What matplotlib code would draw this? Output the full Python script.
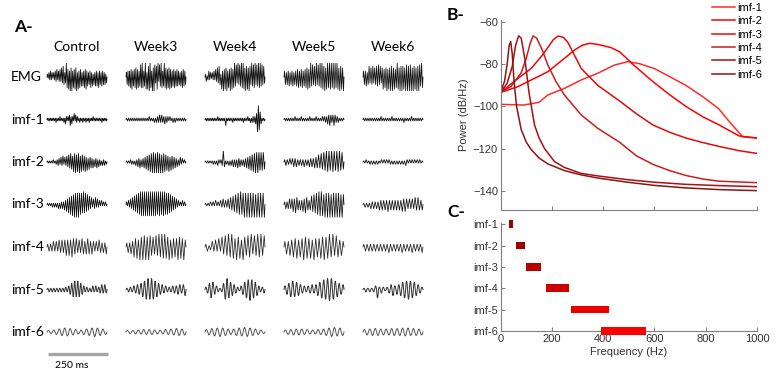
import numpy as np
import matplotlib
matplotlib.use('Agg')
import matplotlib.pyplot as plt

plt.rcParams['font.family'] = ['Liberation Sans', 'DejaVu Sans']

# ---------------- panel A: waveforms (peak amplitudes per half cycle, 0-9) ----------------
conditions = ['Control', 'Week3', 'Week4', 'Week5', 'Week6']
rows = ['EMG', 'imf-1', 'imf-2', 'imf-3', 'imf-4', 'imf-5', 'imf-6']
row_max_px = [14, 14, 11, 13, 13, 11, 4.5]
row_smooth = [False, False, False, False, False, True, True]

emg = ['2132423132435243536475349758496947586938475636475846354736253646374536453524',
       '3546475846576857468797469838799749698478938697469768576857465746564536475645',
       '2312423132425364752849586947596857968495869798697869759687958697968574',
       '4535463546354657465746576857968576958697987968979897989798697869',
       '4546357465746576857468576958697968579869797869897989697869798697']
imf1 = ['1111111111121111211112132121342321413221121112111211121111211111111112111111',
        '1111111111111111111111211112122232322322212112121111111111',
        '11111111111111211111111411111112111111111112111121121222234897531111',
        '111111111121111121111111211111211111212223343234322211111',
        '1111111111111111211111111121111111111211111121111111111']
imf2 = ['11111121122332435243546576587968795867584736453524352423132312',
        '1111221213243524354657687989798979697867584756453423423121',
        '111111121213212394121313242425342324354657687989878786',
        '2322323434232324232434354565768798979897989786',
        '11211212121211212121221212121212132121212121211']
imf3 = ['111112121213132324354657687989898786968574635243524231312121',
        '213243546576879898989898989898979897989787867564534231213121',
        '111121213121324232435465768797898989898979898989',
        '2323434546543435465434657687989879898979898989797',
        '121213232324343435343434343545434343545434']
imf4 = ['232343435454565657656454654565454343543435',
        '34354768597989798675869798987958676978695',
        '2312435363758697986978597687958697968',
        '45465768576978685967687978979687564',
        '232323232323232423232324232324232324']
imf5 = ['1212121212122234567676543222123232234343',
        '1222334456789898765443322233344345',
        '2357643212589765432134678987653223',
        '3456766543323343456788999876544',
        '1212123723212345344567787765432']
imf6 = ['3345678876544567898765',
        '3334445555444455667766',
        '5678898765678899876543',
        '4556666554445567899887',
        '5667776666777788877766']
traces = [emg, imf1, imf2, imf3, imf4, imf5, imf6]

# ---------------- panel B: power spectra ----------------
imf_labels = ['imf-1', 'imf-2', 'imf-3', 'imf-4', 'imf-5', 'imf-6']
f1 = [0, 90, 150, 184, 249, 314, 379, 444, 496, 542, 600, 659, 723, 788, 850, 892, 944, 1000]
p1 = [-99, -99.3, -98, -94.5, -91.4, -87.4, -84.2, -80.3, -78.7, -79.7, -82, -85.8, -90, -95.3, -101, -107.2, -114.4, -115]
f2 = [0, 67, 119, 184, 249, 290, 320, 347, 379, 430, 464, 516, 594, 660, 723, 790, 853, 930, 1000]
p2 = [-93.3, -90.6, -87.4, -83.5, -77.1, -73, -70.8, -70, -70.5, -72, -74, -80, -88.2, -94.5, -100, -105, -108.8, -114, -115]
f3 = [0, 51, 119, 160, 184, 205, 224, 245, 262, 285, 314, 379, 464, 530, 594, 660, 723, 790, 853, 930, 1000]
p3 = [-93.3, -88.2, -81.9, -76, -72, -68.3, -66.5, -67.2, -69.5, -75, -81.9, -90, -97.4, -103.5, -108.8, -112.3, -115, -117.2, -119, -121, -122.3]
f4 = [0, 40, 80, 100, 115, 126, 140, 160, 184, 215, 249, 314, 379, 464, 530, 594, 660, 723, 790, 853, 1000]
p4 = [-93.3, -90.5, -84, -77, -70, -66.5, -67.5, -72.5, -80.3, -88, -94.6, -104, -110.4, -117, -123.5, -127.5, -130.5, -132.8, -134.5, -135.5, -136.2]
f5 = [0, 25, 45, 58, 70, 80, 95, 110, 132, 150, 171, 210, 249, 314, 379, 496, 600, 723, 853, 1000]
p5 = [-93.3, -89, -81, -71, -66.4, -67.5, -78, -93, -108.8, -115, -120, -126.2, -129, -131.8, -133, -134.8, -136, -137, -137.6, -138.1]
f6 = [0, 15, 25, 33, 39, 45, 52, 62, 80, 100, 119, 150, 184, 249, 314, 379, 496, 600, 723, 853, 1000]
p6 = [-93.3, -88, -80, -71, -69.2, -75, -88, -100, -111, -117, -120.5, -124.5, -127.3, -130.5, -132.5, -134, -136, -137.5, -138.7, -139.5, -140]
spec_f = [f1, f2, f3, f4, f5, f6]
spec_p = [p1, p2, p3, p4, p5, p6]
spec_colors = ['#ff2a2a', '#ff0000', '#e00b0b', '#c81e1e', '#a81010', '#8b1515']

# ---------------- panel C: frequency bands ----------------
band_lo = [32, 60, 100, 175, 276, 391]
band_hi = [48, 95, 158, 266, 424, 566]
band_colors = ['#990000', '#9d0000', '#b30000', '#cc0000', '#e80000', '#ff0000']

W, H = 776, 376
fig = plt.figure(figsize=(W / 100, H / 100), dpi=100)

# ---- A ----
axA = fig.add_axes([0, 0, 470 / W, 1])
axA.set_xlim(0, 470)
axA.set_ylim(H, 0)
axA.axis('off')
lab_font = ['Lato', 'DejaVu Sans']

col_x = [77, 156, 235, 314, 393]
row_y = [77, 119.5, 162, 204.5, 247, 289.5, 332]
trace_w = 60
line_col = ['#111111', '#111111', '#111111', '#111111', '#222222', '#333333', '#555555']
line_lw = [0.55, 0.6, 0.6, 0.55, 0.55, 0.7, 0.7]


def wave(s, smooth):
    a = np.array([int(c) for c in s], float)
    n = len(a)
    sign = np.where(np.arange(n) % 2 == 0, 1.0, -1.0)
    if smooth:
        k = 6
        t = (np.arange(n * k + 1)) / k
        idx = np.minimum(t.astype(int), n - 1)
        y = a[idx] * sign[idx] * np.sin(np.pi * (t - idx))
        return t / n, y
    x = np.concatenate([[0], (np.arange(n) + 0.5) / n, [1]])
    y = np.concatenate([[0], a * sign, [0]])
    return x, y


axA.text(14, 27, 'A-', fontsize=12.5, fontweight='bold', family=lab_font, va='center')
for c, name in enumerate(conditions):
    axA.text(col_x[c], 47, name, fontsize=10, family=lab_font, ha='center', va='center')
for r, name in enumerate(rows):
    axA.text(11, row_y[r], name, fontsize=10, family=lab_font, ha='left', va='center')
    for c in range(len(conditions)):
        x, y = wave(traces[r][c], row_smooth[r])
        axA.plot(col_x[c] - trace_w / 2 + x * trace_w, row_y[r] - y / 9 * row_max_px[r],
                 color=line_col[r], lw=line_lw[r], solid_joinstyle='miter')

axA.plot([48, 108], [354, 354], color='#a6a6a6', lw=2.4, solid_capstyle='butt')
axA.text(72, 366, '250 ms', fontsize=7.5, family=lab_font, ha='center', va='center')

# ---- B ----
gray = '#7f7f7f'
txt = '#333333'
axB = fig.add_axes([500.7 / W, 1 - 209.6 / H, 256.3 / W, (209.6 - 20.2) / H])
for i in range(6):
    axB.plot(spec_f[i], spec_p[i], color=spec_colors[i], lw=1.1, label=imf_labels[i])
axB.set_xlim(0, 1000)
axB.set_ylim(-149, -59)
axB.set_xticks([0, 200, 400, 600, 800, 1000])
axB.set_xticklabels([])
axB.set_yticks([-140, -120, -100, -80, -60])
axB.set_yticklabels(['\u2212140', '\u2212120', '\u2212100', '\u221280', '\u221260'])
axB.set_ylabel('Power (dB/Hz)', fontsize=8, color=txt, labelpad=3)
leg = axB.legend(loc='upper left', bbox_to_anchor=(712 / W, 1 - 3 / H),
                 bbox_transform=fig.transFigure, frameon=False, fontsize=8,
                 handlelength=2.1, handletextpad=0.15, labelspacing=0.3,
                 borderaxespad=0, borderpad=0)

# ---- C ----
axC = fig.add_axes([500.7 / W, 1 - 331 / H, 256.3 / W, (331 - 223.2) / H])
ypos = np.arange(1, 7)
axC.barh(ypos, np.array(band_hi) - np.array(band_lo), left=band_lo, height=0.36,
         color=band_colors, clip_on=False, zorder=3)
axC.set_xlim(0, 1000)
axC.set_ylim(6, 0.95)
axC.set_yticks(ypos)
axC.set_yticklabels(imf_labels)
axC.set_xticks([0, 200, 400, 600, 800, 1000])
axC.set_xlabel('Frequency (Hz)', fontsize=8, color=txt, labelpad=2)

for ax in (axB, axC):
    for s in ('top', 'right'):
        ax.spines[s].set_visible(False)
    for s in ('left', 'bottom'):
        ax.spines[s].set_color(gray)
        ax.spines[s].set_linewidth(0.8)
    ax.tick_params(direction='in', length=3, width=0.7, color=gray,
                   labelsize=8, labelcolor=txt, pad=2)

fig.text(447 / W, 1 - 15 / H, 'B-', fontsize=12.5, fontweight='bold', family=lab_font, va='center')
fig.text(447 / W, 1 - 212 / H, 'C-', fontsize=12.5, fontweight='bold', family=lab_font, va='center')

fig.savefig('out.png', dpi=100)
